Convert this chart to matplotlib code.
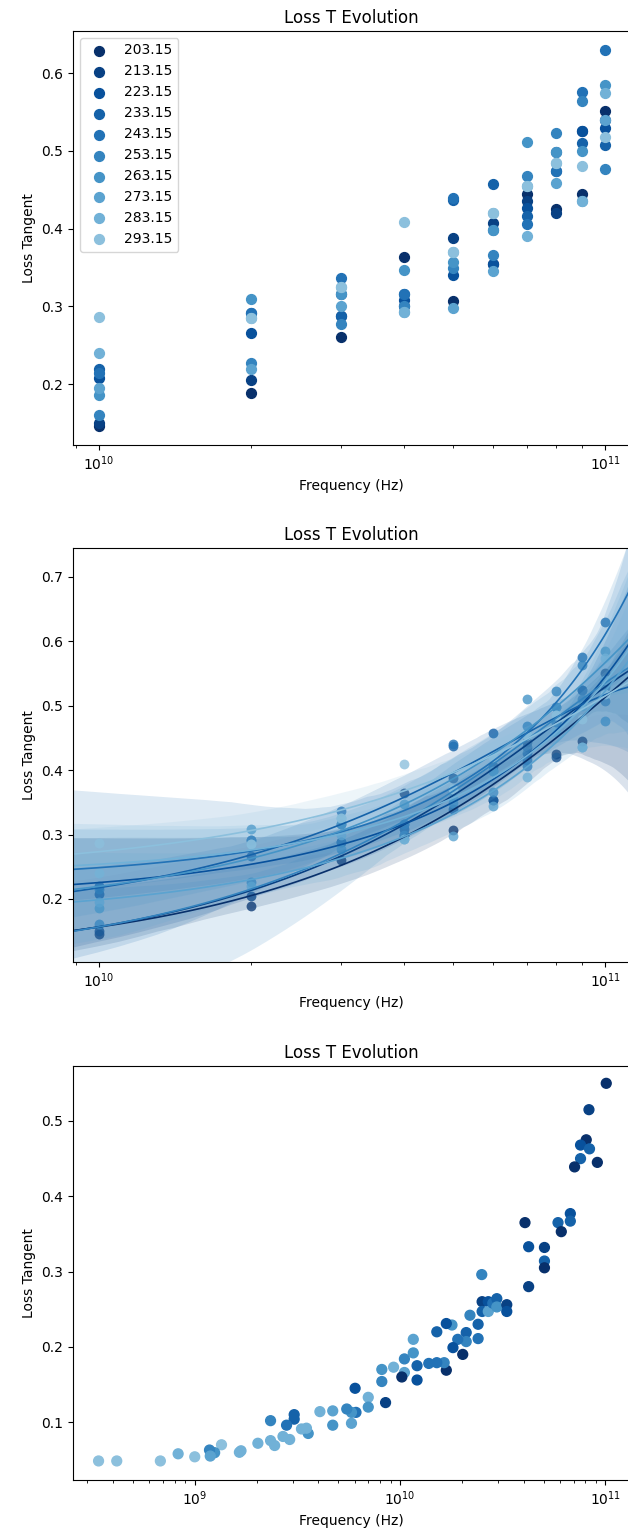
import numpy as np
import matplotlib
matplotlib.use("Agg")
import matplotlib.pyplot as plt
import seaborn as sns

# ---------------- data ----------------
temperatures = [203.15, 213.15, 223.15, 233.15, 243.15, 253.15, 263.15, 273.15, 283.15, 293.15]
frequencies = [1e10, 2e10, 3e10, 4e10, 5e10, 6e10, 7e10, 8e10, 9e10, 1e11]

loss_T203 = [0.146, 0.189, 0.261, 0.364, 0.307, 0.354, 0.444, 0.425, 0.445, 0.551]
loss_T213 = [0.150, 0.205, 0.288, 0.300, 0.388, 0.407, 0.436, 0.420, 0.525, 0.539]
loss_T223 = [0.208, 0.266, 0.316, 0.308, 0.340, 0.354, 0.427, 0.474, 0.525, 0.529]
loss_T233 = [0.220, 0.291, 0.288, 0.316, 0.437, 0.458, 0.416, 0.498, 0.510, 0.508]
loss_T243 = [0.215, 0.291, 0.336, 0.316, 0.440, 0.398, 0.406, 0.474, 0.575, 0.630]
loss_T253 = [0.161, 0.227, 0.278, 0.300, 0.349, 0.366, 0.468, 0.523, 0.564, 0.477]
loss_T263 = [0.186, 0.309, 0.316, 0.347, 0.357, 0.398, 0.511, 0.498, 0.500, 0.585]
loss_T273 = [0.195, 0.220, 0.300, 0.293, 0.298, 0.345, 0.455, 0.459, 0.436, 0.540]
loss_T283 = [0.240, 0.285, 0.325, 0.293, 0.370, 0.420, 0.390, 0.485, 0.436, 0.574]
loss_T293 = [0.287, 0.285, 0.325, 0.409, 0.370, 0.420, 0.455, 0.485, 0.480, 0.518]
loss_by_temp = [loss_T203, loss_T213, loss_T223, loss_T233, loss_T243,
                loss_T253, loss_T263, loss_T273, loss_T283, loss_T293]

# shifted (master-curve) data for bottom panel: frequency, loss, temperature index
shift_freq = [1.01e11, 8.32e10, 8.07e10, 7.57e10, 8.37e10, 7.57e10, 7.08e10, 9.14e10,
              4.06e10, 5.88e10, 6.75e10, 6.75e10, 6.10e10, 4.23e10, 5.05e10, 5.05e10,
              5.05e10, 2.50e10, 4.23e10,
              2.51e10, 2.51e10, 2.69e10, 2.69e10, 2.83e10, 2.96e10, 2.96e10, 3.31e10,
              3.31e10, 2.40e10, 2.40e10, 2.19e10, 2.10e10, 2.10e10, 2.02e10, 1.91e10,
              1.81e10, 1.79e10, 1.68e10, 1.68e10, 1.64e10, 1.51e10, 1.51e10, 1.38e10,
              1.21e10, 1.21e10, 1.16e10, 1.16e10, 1.05e10, 1.05e10, 1.02e10, 9.3e9,
              8.15e9, 8.15e9, 8.5e9, 7.0e9, 7.0e9, 6.04e9, 6.1e9, 5.8e9, 5.5e9, 5.8e9,
              4.7e9, 4.7e9, 4.07e9, 3.57e9, 3.5e9, 3.31e9, 3.05e9, 3.05e9, 2.8e9,
              2.69e9, 2.9e9, 2.34e9, 2.34e9, 2.45e9, 2.03e9, 1.65e9, 1.68e9, 1.35e9,
              1.25e9, 1.18e9, 1.19e9, 1.0e9, 8.3e8, 6.8e8, 4.17e8, 3.4e8]
shift_loss = [0.550, 0.515, 0.475, 0.468, 0.463, 0.450, 0.439, 0.445,
              0.365, 0.365, 0.377, 0.367, 0.353, 0.333, 0.332, 0.314,
              0.305, 0.296, 0.280,
              0.260, 0.247, 0.260, 0.247, 0.258, 0.264, 0.253, 0.256,
              0.247, 0.230, 0.211, 0.242, 0.219, 0.207, 0.190, 0.210,
              0.199, 0.229, 0.231, 0.169, 0.179, 0.220, 0.179, 0.178,
              0.175, 0.156, 0.210, 0.192, 0.184, 0.166, 0.160, 0.173,
              0.170, 0.154, 0.126, 0.133, 0.120, 0.145, 0.113, 0.113, 0.1175, 0.0985,
              0.115, 0.096, 0.114, 0.085, 0.092, 0.091, 0.110, 0.104, 0.096,
              0.081, 0.077, 0.102, 0.0755, 0.069, 0.072, 0.060, 0.062, 0.070,
              0.0595, 0.063, 0.055, 0.054, 0.058, 0.0485, 0.0485, 0.0485]
shift_temp_idx = [0, 1, 0, 2, 3, 3, 0, 0,
                  0, 3, 2, 3, 0, 2, 1, 3,
                  0, 5, 1,
                  1, 3, 2, 7, 4, 3, 6, 1,
                  2, 3, 4, 5, 3, 5, 0, 4,
                  2, 6, 2, 0, 5, 3, 4, 4,
                  3, 2, 7, 6, 5, 7, 0, 8,
                  6, 5, 1, 8, 6, 2, 4, 6, 5, 7,
                  7, 6, 8, 6, 8, 8, 3, 3, 4,
                  8, 8, 5, 8, 8, 8, 8, 8, 9,
                  6, 5, 7, 9, 8, 9, 9, 9]

# ---------------- style ----------------
palette = plt.cm.Blues(np.linspace(1.0, 0.42, len(temperatures)))
plt.rcParams['font.family'] = ['DejaVu Sans']

W, H = 628, 1539
fig = plt.figure(figsize=(W / 100, H / 100), dpi=100)


def add_ax(top_px, bottom_px):
    left = 73 / W
    width = (630 - 73) / W
    bottom = 1 - bottom_px / H
    height = (bottom_px - top_px) / H
    return fig.add_axes([left, bottom, width, height])


xlim_main = (10 ** 9.9486, 10 ** 11.049)

# ---- panel 1: raw scatter ----
ax1 = add_ax(31, 445)
ax1.set_xscale('log')
for T, loss, col in zip(temperatures, loss_by_temp, palette):
    ax1.scatter(frequencies, loss, color=col, s=50, label=f"{T:.2f}")
ax1.set_xlim(*xlim_main)
ax1.set_ylim(0.122, 0.654)
ax1.set_yticks([0.2, 0.3, 0.4, 0.5, 0.6])
ax1.legend(loc='upper left')
ax1.set_title("Loss T Evolution")
ax1.set_xlabel("Frequency (Hz)")
ax1.set_ylabel("Loss Tangent")

# ---- panel 2: regression fits ----
ax2 = add_ax(548, 962)
ax2.set_xscale('log')
ax2.set_xlim(*xlim_main)
for T, loss, col in zip(temperatures, loss_by_temp, palette):
    sns.regplot(x=np.array(frequencies), y=np.array(loss), ax=ax2, order=2,
                truncate=False, color=col, seed=0, n_boot=500, ci=95,
                scatter_kws=dict(s=50, alpha=0.8, linewidths=0),
                line_kws=dict(lw=1.2))
ax2.set_xlim(*xlim_main)
ax2.set_ylim(0.102, 0.745)
ax2.set_yticks([0.2, 0.3, 0.4, 0.5, 0.6, 0.7])
ax2.set_title("Loss T Evolution")
ax2.set_xlabel("Frequency (Hz)")
ax2.set_ylabel("Loss Tangent")

# ---- panel 3: shifted master curve ----
ax3 = add_ax(1066, 1480)
ax3.set_xscale('log')
ax3.scatter(shift_freq, shift_loss, c=[palette[i] for i in shift_temp_idx], s=50)
ax3.set_xlim(10 ** 8.407, 10 ** 11.12)
ax3.set_ylim(0.0232, 0.573)
ax3.set_yticks([0.1, 0.2, 0.3, 0.4, 0.5])
ax3.set_title("Loss T Evolution")
ax3.set_xlabel("Frequency (Hz)")
ax3.set_ylabel("Loss Tangent")

fig.savefig("out.png", dpi=100)
